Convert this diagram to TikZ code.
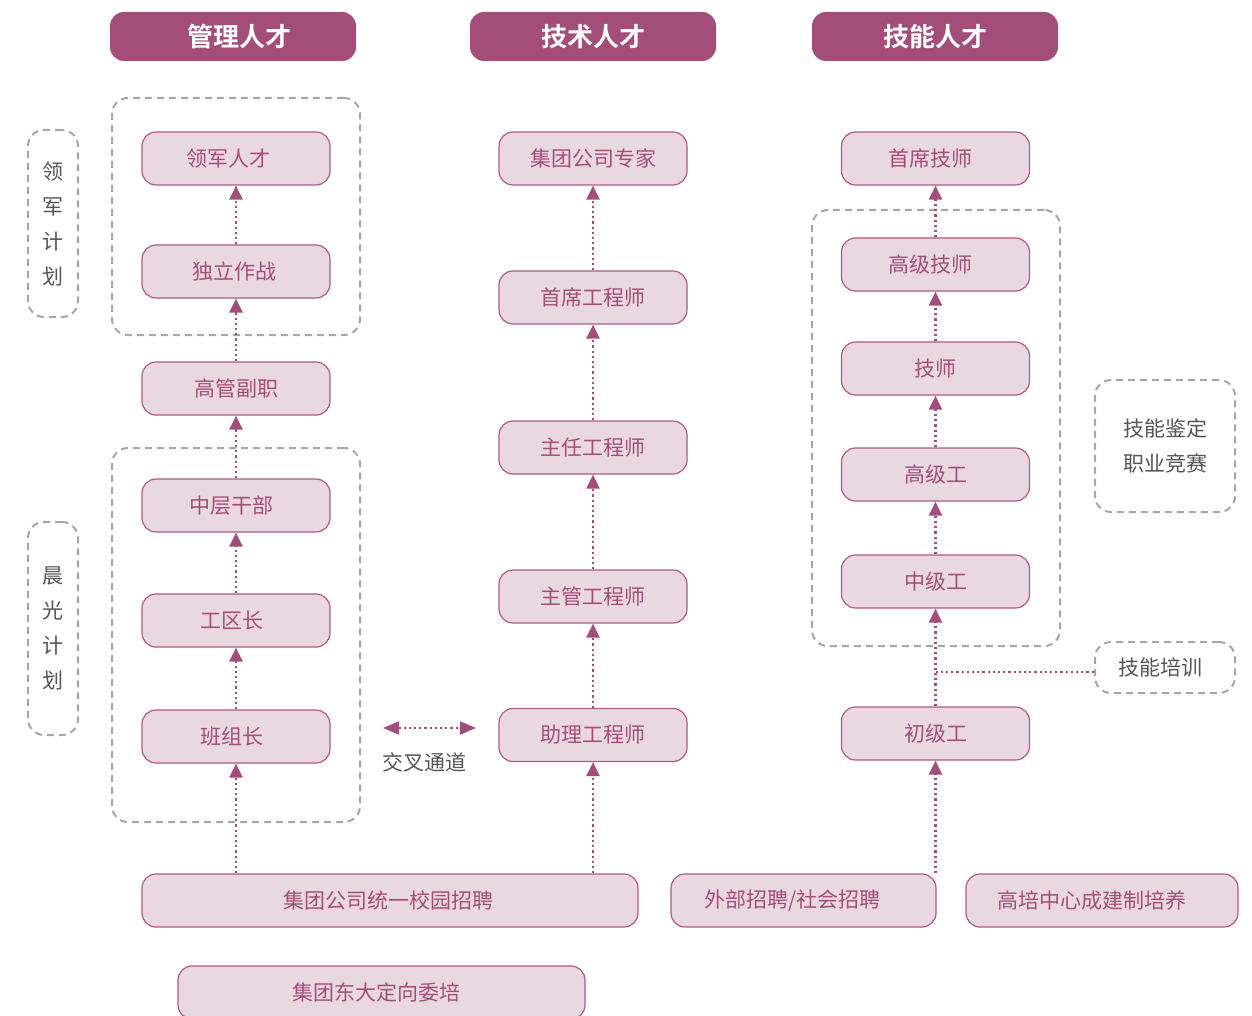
\documentclass[tikz,border=0pt]{standalone}
\usepackage{fontspec}
\setmainfont{Noto Sans CJK SC}[BoldFont={Noto Sans CJK SC Bold}]
\usetikzlibrary{arrows.meta}
\definecolor{headfill}{HTML}{A34E7A}
\definecolor{nodefill}{HTML}{EAD8E1}
\definecolor{nodeborder}{HTML}{B05A86}
\definecolor{nodetext}{HTML}{A34E7A}
\definecolor{arrowc}{HTML}{A34E7A}
\definecolor{dashgray}{HTML}{A6A6A6}
\definecolor{graytext}{HTML}{555555}
\tikzset{
  box/.style={draw=nodeborder, fill=nodefill, rounded corners=14pt, minimum width=188pt, minimum height=53pt, text=nodetext, font=\fontsize{21}{25}\selectfont, line width=1.2pt, inner sep=0pt},
  head/.style={fill=headfill, rounded corners=14pt, minimum width=246pt, minimum height=49pt, text=white, font=\fontsize{26}{30}\selectfont\bfseries, inner sep=0pt},
  grp/.style={draw=dashgray, dash pattern=on 7pt off 5pt, rounded corners=16pt, line width=2pt, inner sep=0pt},
  side/.style={grp, text=graytext, font=\fontsize{21}{35}\selectfont, align=center},
  up/.style={draw=arrowc, line width=2.2pt, dash pattern=on 2.2pt off 3pt, -{Triangle[width=13pt,length=14pt]}},
  dotln/.style={draw=arrowc, line width=2.2pt, dash pattern=on 2.2pt off 3pt},
  both/.style={draw=arrowc, line width=2.2pt, dash pattern=on 2.2pt off 3pt, {Triangle[width=13pt,length=16pt]}-{Triangle[width=13pt,length=16pt]}},
}
\newcommand{\sh}[2]{#2\hspace*{#1pt}}
\begin{document}
\begin{tikzpicture}[x=1pt,y=-1pt]
\path[use as bounding box] (0,0) rectangle (1252,1016);
\begin{scope}
\clip (0,0) rectangle (1252,1016);
% headers
\node[head] (h1) at (233,36.5) {\hspace*{12pt}管理人才};
\node[head] (h2) at (593,36.5) {技术人才};
\node[head] (h3) at (935,36.5) {技能人才};
% group boxes
\node[grp, minimum width=248pt, minimum height=237pt] (g1) at (236,216.5) {};
\node[grp, minimum width=248pt, minimum height=374pt] (g2) at (236,635) {};
\node[grp, minimum width=248pt, minimum height=436pt] (g3) at (936,428) {};
% side boxes
\node[side, minimum width=50pt, minimum height=187pt] (s1) at (53,223.5) {领\\军\\计\\划};
\node[side, minimum width=50pt, minimum height=213pt] (s2) at (53,628.5) {晨\\光\\计\\划};
\node[side, minimum width=140pt, minimum height=132pt] (s3) at (1165,446) {技能鉴定\\职业竞赛};
\node[side, minimum width=140pt, minimum height=51pt] (s4) at (1165,667.5) {\sh{9}{技能培训}};
% column 1
\node[box] (a1) at (236,158.5) {\sh{15}{领军人才}};
\node[box] (a2) at (236,271.5) {\sh{4}{独立作战}};
\node[box] (a3) at (236,388.5) {高管副职};
\node[box] (a4) at (236,505.5) {\sh{10}{中层干部}};
\node[box] (a5) at (236,620.5) {\sh{8}{工区长}};
\node[box] (a6) at (236,736.5) {\sh{9}{班组长}};
% column 2
\node[box] (b1) at (593,158.5) {集团公司专家};
\node[box] (b2) at (593,297.5) {首席工程师};
\node[box] (b3) at (593,447.5) {主任工程师};
\node[box] (b4) at (593,596.5) {主管工程师};
\node[box] (b5) at (593,735) {助理工程师};
% column 3
\node[box] (c1) at (935.5,158.5) {\sh{10}{首席技师}};
\node[box] (c2) at (935.5,264.5) {\sh{10}{高级技师}};
\node[box] (c3) at (935.5,368.5) {技师};
\node[box] (c4) at (935.5,474.5) {高级工};
\node[box] (c5) at (935.5,581.5) {中级工};
\node[box] (c6) at (935.5,733.5) {初级工};
% bottom
\node[box, minimum width=496pt] (r1) at (390,900.5) {\sh{3}{集团公司统一校园招聘}};
\node[box, minimum width=265pt] (r2) at (803.5,900.5) {\sh{22}{外部招聘/社会招聘}};
\node[box, minimum width=272pt] (r3) at (1102,900.5) {\sh{20}{高培中心成建制培养}};
\node[box, minimum width=407pt] (r4) at (381.5,992.5) {\sh{10}{集团东大定向委培}};
% arrows col 1
\draw[up] (a2.north) -- (a1.south);
\draw[up] (a3.north) -- (a2.south);
\draw[up] (a4.north) -- (a3.south);
\draw[up] (a5.north) -- (a4.south);
\draw[up] (a6.north) -- (a5.south);
\draw[up] (r1.north -| a6) -- (a6.south);
% arrows col 2
\draw[up] (b2.north) -- (b1.south);
\draw[up] (b3.north) -- (b2.south);
\draw[up] (b4.north) -- (b3.south);
\draw[up] (b5.north) -- (b4.south);
\draw[up] (r1.north -| b5) -- (b5.south);
% arrows col 3
\draw[up] (c2.north) -- (c1.south);
\draw[up] (c3.north) -- (c2.south);
\draw[up] (c4.north) -- (c3.south);
\draw[up] (c5.north) -- (c4.south);
\draw[up] (c6.north) -- (c5.south);
\draw[up] (r2.north -| c6) -- (c6.south);
\coordinate (tj) at (935.5,672);
\draw[dotln] (tj) -- (tj -| s4.west);
% cross channel
\coordinate (x1) at (383,728);
\coordinate (x2) at (476,728);
\draw[both] (x1) -- (x2);
\node[text=graytext, font=\fontsize{21}{25}\selectfont, inner sep=0pt] (xl) at (424,762) {交叉通道};
\end{scope}
\end{tikzpicture}
\end{document}
